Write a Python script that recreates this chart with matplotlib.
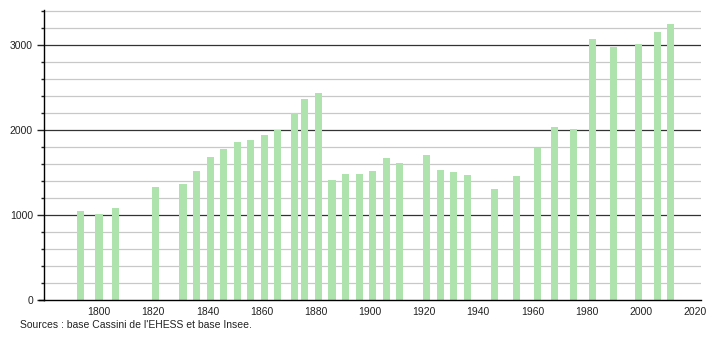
import matplotlib
matplotlib.use("Agg")
import matplotlib.pyplot as plt
from matplotlib.ticker import MultipleLocator

years = [1793, 1800, 1806, 1821, 1831, 1836, 1841, 1846, 1851, 1856, 1861, 1866,
         1872, 1876, 1881, 1886, 1891, 1896, 1901, 1906, 1911, 1921, 1926, 1931,
         1936, 1946, 1954, 1962, 1968, 1975, 1982, 1990, 1999, 2006, 2011]
population = [1047, 1012, 1082, 1329, 1365, 1518, 1682, 1776, 1859, 1882, 1941, 2000,
              2200, 2365, 2435, 1412, 1482, 1482, 1518, 1671, 1612, 1706, 1529, 1506,
              1471, 1306, 1459, 1792, 2035, 2012, 3071, 2976, 3012, 3153, 3247]
x_ticks = [1800, 1820, 1840, 1860, 1880, 1900, 1920, 1940, 1960, 1980, 2000, 2020]
y_ticks = [0, 1000, 2000, 3000]
source = "Sources : base Cassini de l'EHESS et base Insee."

plt.rcParams['font.family'] = ['Liberation Sans', 'DejaVu Sans']

fig = plt.figure(figsize=(7.1, 3.4), dpi=100)
ax = fig.add_axes([44/710, 40/340, 657/710, 290/340])

ax.set_xlim(1779.7, 2022.2)
ax.set_ylim(0, 3412)

# grid
for v in range(200, 3401, 200):
    if v % 1000 == 0:
        ax.axhline(v, color='#333333', lw=0.9, zorder=1)
    else:
        ax.axhline(v, color='#c8c8c8', lw=0.9, zorder=1)

ax.bar(years, population, width=2.6, color='#aee3ae', zorder=2)

ax.set_xticks(x_ticks)
ax.set_yticks(y_ticks)
ax.yaxis.set_minor_locator(MultipleLocator(200))
ax.tick_params(axis='x', length=0, pad=5, labelsize=7.5, colors='#222222')
ax.tick_params(axis='y', which='major', length=5, width=1, pad=3, labelsize=7.5, colors='#222222')
ax.tick_params(axis='y', which='minor', length=2, width=1, colors='#222222')
ax.tick_params(axis='y', labelcolor='#222222')

for s in ['top', 'right']:
    ax.spines[s].set_visible(False)
ax.spines['left'].set_color('#000000')
ax.spines['bottom'].set_color('#000000')
ax.spines['left'].set_linewidth(1)
ax.spines['bottom'].set_linewidth(1)
ax.plot([-0.007, 0], [0, 0], transform=ax.transAxes, color='black', lw=1, clip_on=False)

fig.text(20/710, 1 - 328/340, source, fontsize=7.5, color='#222222', va='baseline', ha='left')

fig.savefig('out.png', dpi=100)
